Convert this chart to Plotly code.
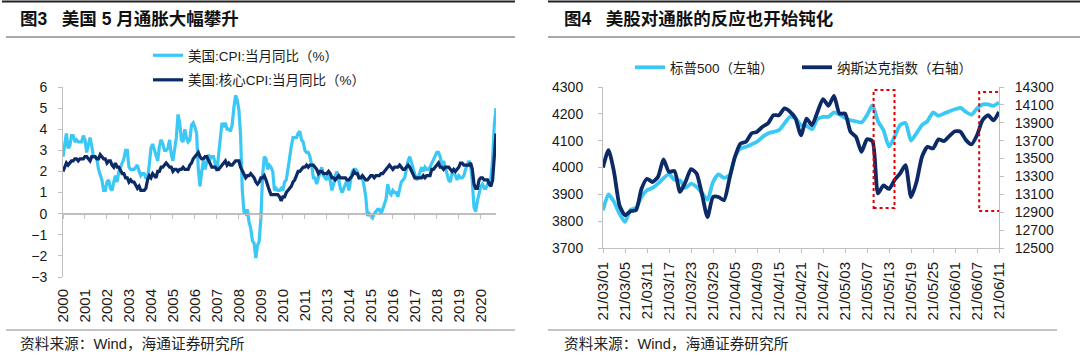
import pandas as pd
import plotly.graph_objects as go

# ---------------- Left chart data: US CPI YoY and core CPI YoY (monthly, 2000-01 .. 2021-05)
cpi_yoy = [
    2.7, 3.2, 3.8, 3.1, 3.2, 3.7, 3.7, 3.4, 3.5, 3.4, 3.4, 3.4,   # 2000
    3.7, 3.5, 2.9, 3.3, 3.6, 3.2, 2.7, 2.7, 2.6, 2.1, 1.9, 1.6,   # 2001
    1.1, 1.1, 1.5, 1.6, 1.2, 1.1, 1.5, 1.8, 1.5, 2.0, 2.2, 2.4,   # 2002
    2.6, 3.0, 3.0, 2.2, 2.1, 2.1, 2.1, 2.2, 2.3, 2.0, 1.8, 1.9,   # 2003
    1.9, 1.7, 1.7, 2.3, 3.1, 3.3, 3.0, 2.7, 2.5, 3.2, 3.5, 3.3,   # 2004
    3.0, 3.0, 3.1, 3.5, 2.8, 2.5, 3.2, 3.6, 4.7, 4.3, 3.5, 3.4,   # 2005
    4.0, 3.6, 3.4, 3.5, 4.2, 4.3, 4.1, 3.8, 2.1, 1.3, 2.0, 2.5,   # 2006
    2.1, 2.4, 2.8, 2.6, 2.7, 2.7, 2.4, 2.0, 2.8, 3.5, 4.3, 4.1,   # 2007
    4.3, 4.0, 4.0, 3.9, 4.2, 5.0, 5.6, 5.4, 4.9, 3.7, 1.1, 0.1,   # 2008
    0.0, 0.2, -0.4, -0.7, -1.3, -1.4, -2.1, -1.5, -1.3, -0.2, 1.8, 2.7,  # 2009
    2.6, 2.1, 2.3, 2.2, 2.0, 1.1, 1.2, 1.1, 1.1, 1.2, 1.1, 1.5,   # 2010
    1.6, 2.1, 2.7, 3.2, 3.6, 3.6, 3.6, 3.8, 3.9, 3.5, 3.4, 3.0,   # 2011
    2.9, 2.9, 2.7, 2.3, 1.7, 1.7, 1.4, 1.7, 2.0, 2.2, 1.8, 1.7,   # 2012
    1.6, 2.0, 1.5, 1.1, 1.4, 1.8, 2.0, 1.5, 1.2, 1.0, 1.2, 1.5,   # 2013
    1.6, 1.1, 1.5, 2.0, 2.1, 2.1, 2.0, 1.7, 1.7, 1.7, 1.3, 0.8,   # 2014
    -0.1, 0.0, -0.1, -0.2, 0.0, 0.1, 0.2, 0.2, 0.0, 0.2, 0.5, 0.7,  # 2015
    1.4, 1.0, 0.9, 1.1, 1.0, 1.0, 0.8, 1.1, 1.5, 1.6, 1.7, 2.1,   # 2016
    2.5, 2.7, 2.4, 2.2, 1.9, 1.6, 1.7, 1.9, 2.2, 2.0, 2.2, 2.1,   # 2017
    2.1, 2.2, 2.4, 2.5, 2.8, 2.9, 2.9, 2.7, 2.3, 2.5, 2.2, 1.9,   # 2018
    1.6, 1.5, 1.9, 2.0, 1.8, 1.6, 1.8, 1.7, 1.7, 1.8, 2.1, 2.3,   # 2019
    2.5, 2.3, 1.5, 0.3, 0.1, 0.6, 1.0, 1.3, 1.4, 1.2, 1.2, 1.4,   # 2020
    1.4, 1.7, 2.6, 4.2, 5.0,                                      # 2021
]
core_cpi_yoy = [
    2.0, 2.2, 2.4, 2.3, 2.4, 2.5, 2.5, 2.6, 2.6, 2.5, 2.6, 2.6,   # 2000
    2.6, 2.7, 2.7, 2.6, 2.5, 2.7, 2.7, 2.7, 2.6, 2.6, 2.8, 2.7,   # 2001
    2.6, 2.6, 2.4, 2.5, 2.5, 2.3, 2.2, 2.4, 2.2, 2.2, 2.0, 1.9,   # 2002
    1.9, 1.7, 1.7, 1.5, 1.6, 1.5, 1.5, 1.3, 1.2, 1.3, 1.1, 1.1,   # 2003
    1.1, 1.2, 1.6, 1.8, 1.7, 1.9, 1.8, 1.7, 2.0, 2.0, 2.2, 2.2,   # 2004
    2.3, 2.4, 2.3, 2.2, 2.2, 2.0, 2.1, 2.1, 2.0, 2.1, 2.1, 2.2,   # 2005
    2.1, 2.1, 2.1, 2.3, 2.4, 2.6, 2.7, 2.8, 2.9, 2.7, 2.6, 2.6,   # 2006
    2.7, 2.7, 2.5, 2.3, 2.2, 2.2, 2.2, 2.1, 2.1, 2.2, 2.3, 2.4,   # 2007
    2.5, 2.3, 2.4, 2.3, 2.3, 2.4, 2.5, 2.5, 2.5, 2.2, 2.0, 1.8,   # 2008
    1.7, 1.8, 1.8, 1.9, 1.8, 1.7, 1.5, 1.4, 1.5, 1.7, 1.7, 1.8,   # 2009
    1.6, 1.3, 1.1, 0.9, 0.9, 0.9, 0.9, 0.9, 0.8, 0.6, 0.8, 0.8,   # 2010
    1.0, 1.1, 1.2, 1.3, 1.5, 1.6, 1.8, 2.0, 2.0, 2.1, 2.2, 2.2,   # 2011
    2.3, 2.2, 2.3, 2.3, 2.3, 2.2, 2.1, 1.9, 2.0, 2.0, 1.9, 1.9,   # 2012
    1.9, 2.0, 1.9, 1.7, 1.7, 1.6, 1.7, 1.8, 1.7, 1.7, 1.7, 1.7,   # 2013
    1.6, 1.6, 1.7, 1.8, 2.0, 1.9, 1.9, 1.7, 1.7, 1.8, 1.7, 1.6,   # 2014
    1.6, 1.7, 1.8, 1.8, 1.7, 1.8, 1.8, 1.8, 1.9, 1.9, 2.0, 2.1,   # 2015
    2.2, 2.3, 2.2, 2.1, 2.2, 2.2, 2.2, 2.3, 2.2, 2.1, 2.1, 2.2,   # 2016
    2.3, 2.2, 2.0, 1.9, 1.7, 1.7, 1.7, 1.7, 1.7, 1.8, 1.7, 1.8,   # 2017
    1.8, 1.8, 2.1, 2.1, 2.2, 2.3, 2.4, 2.2, 2.2, 2.1, 2.2, 2.2,   # 2018
    2.2, 2.1, 2.0, 2.1, 2.0, 2.1, 2.2, 2.4, 2.4, 2.3, 2.3, 2.3,   # 2019
    2.3, 2.4, 2.1, 1.4, 1.2, 1.2, 1.6, 1.7, 1.7, 1.6, 1.6, 1.6,   # 2020
    1.4, 1.3, 1.6, 3.0, 3.8,                                      # 2021
]
months = pd.date_range("2000-01-01", periods=len(cpi_yoy), freq="MS").strftime("%Y-%m").tolist()
month_label_step = 13  # category-axis label interval used by the source chart

# ---------------- Right chart data: S&P 500 (left axis) and Nasdaq (right axis), trading days
holidays = ["2021-04-02", "2021-05-31"]
trade_days = [d for d in pd.bdate_range("2021-03-01", "2021-06-11").strftime("%Y-%m-%d") if d not in holidays]
spx = [3841, 3900, 3872, 3828, 3797, 3842, 3850, 3890, 3915, 3924,
       3940, 3960, 3975, 3954, 3952, 3924, 3940, 3928, 3905, 3880,
       3946, 3974, 3961, 3971, 4040, 4071, 4077, 4086, 4096, 4114,
       4127, 4133, 4139, 4164, 4189, 4183, 4158, 4155, 4143, 4180,
       4189, 4189, 4205, 4197, 4185, 4176, 4172, 4168, 4195, 4232,
       4172, 4139, 4078, 4114, 4158, 4166, 4100, 4128, 4158, 4173,
       4205, 4193, 4201, 4210, 4217, 4222, 4207, 4197, 4220, 4235,
       4235, 4230, 4242]
nasdaq = [13400, 13595, 13352, 12977, 12866, 12911, 12923, 13163, 13274, 13238,
          13295, 13490, 13352, 13361, 13127, 13238, 13382, 13334, 13100, 12845,
          13070, 13070, 13034, 13277, 13520, 13667, 13688, 13781, 13799, 13856,
          13892, 13985, 13985, 14060, 14024, 13949, 13760, 13946, 13874, 14021,
          14165, 14090, 14201, 14003, 14003, 13799, 13742, 13574, 13715, 13694,
          13110, 13200, 13160, 13260, 13331, 13427, 13070, 13238, 13520, 13631,
          13613, 13715, 13694, 13754, 13805, 13799, 13706, 13658, 13760, 13928,
          13985, 13928, 14021]
day_label_step = 4
# highlighted periods (category index span, S&P-axis value span)
highlight_boxes = [((49.2, 53.0), (3849, 4289)), ((68.4, 72.4), (3838, 4281))]

# ---------------- styling
W, H = 1080, 358
FONT = "Liberation Sans, Arial, Noto Sans CJK SC, sans-serif"
LIGHT = "#3CC8F5"
NAVY = "#0B2A66"
AXIS = "#BFBFBF"
TXT = "#1a1a1a"

def px(x):
    return x / W

def py(y):
    return 1 - y / H

fig = go.Figure()

# left chart traces
fig.add_trace(go.Scatter(x=months, y=cpi_yoy, name="美国:CPI:当月同比（%）", mode="lines",
                         line=dict(color=LIGHT, width=3.2), xaxis="x", yaxis="y",
                         legend="legend", legendgroup="a"))
fig.add_trace(go.Scatter(x=months, y=core_cpi_yoy, name="美国:核心CPI:当月同比（%）", mode="lines",
                         line=dict(color=NAVY, width=3.2), xaxis="x", yaxis="y",
                         legend="legend", legendgroup="b"))
# invisible helper trace so the zero-line axis (with its tick marks) gets drawn
fig.add_trace(go.Scatter(x=[0], y=[0], xaxis="x3", yaxis="y", showlegend=False,
                         hoverinfo="skip", mode="markers", marker=dict(opacity=0)))
# right chart traces
fig.add_trace(go.Scatter(x=trade_days, y=spx, name="标普500（左轴）", mode="lines",
                         line=dict(color=LIGHT, width=3.8, shape="spline", smoothing=0.6),
                         xaxis="x2", yaxis="y2", legend="legend2"))
fig.add_trace(go.Scatter(x=trade_days, y=nasdaq, name="纳斯达克指数（右轴）", mode="lines",
                         line=dict(color=NAVY, width=3.8, shape="spline", smoothing=0.6),
                         xaxis="x2", yaxis="y3", legend="legend2"))

ly0, ly1 = py(277), py(87)
ry0, ry1 = py(248), py(87)
yr = (-3, 6)
zero_pos = ly0 + (ly1 - ly0) * (0 - yr[0]) / (yr[1] - yr[0])

xtick_font = dict(family=FONT, size=15, color=TXT)
ytick_font = dict(family=FONT, size=14, color=TXT)
n_left = len(months)
n_right = len(trade_days)

fig.update_layout(
    width=W, height=H, margin=dict(l=0, r=0, t=0, b=0, autoexpand=False),
    paper_bgcolor="white", plot_bgcolor="white",
    font=dict(family=FONT, size=13, color=TXT),
    xaxis=dict(domain=[px(63), px(496)], anchor="y", type="category",
               range=[0, n_left - 1], tickvals=months[::month_label_step],
               ticktext=[m[:4] for m in months[::month_label_step]],
               tickangle=-90, showline=False, ticks="", showgrid=False,
               zeroline=False, tickfont=xtick_font, ticklabelstandoff=8),
    xaxis3=dict(overlaying="x", anchor="free", position=zero_pos,
                range=[0, n_left - 1], tickvals=list(range(0, n_left, month_label_step)),
                showticklabels=False, showline=True, linecolor=AXIS, linewidth=1,
                ticks="outside", ticklen=4, tickcolor=AXIS, showgrid=False, zeroline=False),
    yaxis=dict(domain=[ly0, ly1], anchor="x", range=list(yr), dtick=1,
               showline=True, linecolor=AXIS, ticks="outside", ticklen=4, tickcolor=AXIS,
               showgrid=False, zeroline=True, zerolinecolor=AXIS, zerolinewidth=1,
               tickfont=ytick_font, ticklabelstandoff=8),
    xaxis2=dict(domain=[px(603), px(999)], anchor="y2", type="category",
                range=[0, n_right - 1], tickvals=trade_days[::day_label_step],
                ticktext=[pd.Timestamp(d).strftime("%y/%m/%d") for d in trade_days[::day_label_step]],
                tickangle=-90, showline=True, linecolor=AXIS, ticks="outside", ticklen=4,
                tickcolor=AXIS, showgrid=False, zeroline=False, tickfont=xtick_font,
                ticklabelstandoff=3),
    yaxis2=dict(domain=[ry0, ry1], anchor="x2", range=[3700, 4300], dtick=100,
                showline=True, linecolor=AXIS, ticks="outside", ticklen=4, tickcolor=AXIS,
                showgrid=False, zeroline=False, tickfont=ytick_font, ticklabelstandoff=12),
    yaxis3=dict(overlaying="y2", side="right", anchor="x2", range=[12500, 14300],
                tick0=12500, dtick=200, tickformat="d",
                showline=True, linecolor=AXIS, ticks="outside", ticklen=4, tickcolor=AXIS,
                showgrid=False, zeroline=False, tickfont=ytick_font, ticklabelstandoff=8),
    legend=dict(x=px(148), y=py(40), xanchor="left", yanchor="top", orientation="v",
                bgcolor="rgba(0,0,0,0)", font=dict(family=FONT, size=13.5, color=TXT),
                tracegroupgap=4, itemwidth=30),
    legend2=dict(x=px(630), y=py(52), xanchor="left", yanchor="top", orientation="h",
                 bgcolor="rgba(0,0,0,0)", font=dict(family=FONT, size=13.5, color=TXT),
                 entrywidth=122, entrywidthmode="pixels"),
    showlegend=True,
)

# highlighted boxes
for (xa, xb), (ya, yb) in highlight_boxes:
    fig.add_shape(type="rect", xref="x2", yref="y2", x0=xa, x1=xb, y0=ya, y1=yb,
                  line=dict(color="#E00000", width=2, dash="dot"), fillcolor="rgba(0,0,0,0)")

# frame lines
for (x0, x1, y, w, c) in [
    (2, 515, 1.5, 2, "#222222"), (6, 515, 37, 1, "#555555"), (6, 515, 330, 1, "#888888"),
    (548, 1080, 1.5, 2, "#222222"), (548, 1080, 37, 1, "#555555"), (548, 1057, 330, 1, "#888888"),
]:
    fig.add_shape(type="line", xref="paper", yref="paper", x0=px(x0), x1=px(x1),
                  y0=py(y), y1=py(y), line=dict(color=c, width=w))

# titles and sources
for x, text in [(18, "<b>图3\u00a0\u00a0\u00a0美国 5 月通胀大幅攀升</b>"),
                (562, "<b>图4\u00a0\u00a0\u00a0美股对通胀的反应也开始钝化</b>")]:
    fig.add_annotation(text=text, xref="paper", yref="paper", x=px(x), y=py(19),
                       xanchor="left", yanchor="middle", showarrow=False,
                       font=dict(family=FONT, size=17.5, color="#111111"))
for x in (18, 562):
    fig.add_annotation(text="资料来源：Wind，海通证券研究所", xref="paper", yref="paper",
                       x=px(x), y=py(344), xanchor="left", yanchor="middle", showarrow=False,
                       font=dict(family=FONT, size=14.7, color="#222222"))

fig.write_html(
    "out.html",
    config={"displayModeBar": False},
    post_script="document.body.style.margin='0';document.body.style.overflow='hidden';",
)
